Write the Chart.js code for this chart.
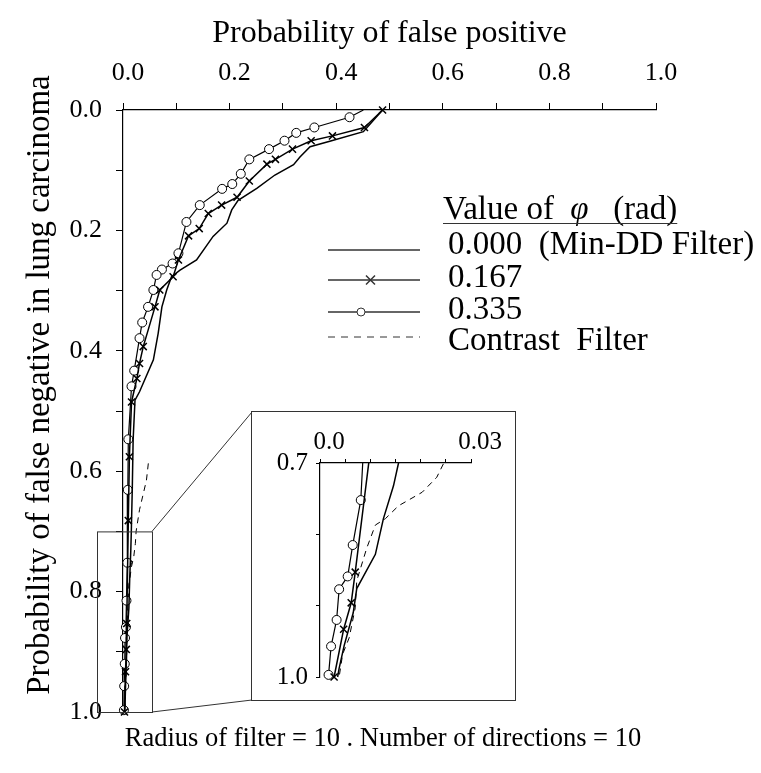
<!DOCTYPE html>
<html>
<head>
<meta charset="utf-8">
<script src="https://cdn.jsdelivr.net/npm/chart.js@4.4.1/dist/chart.umd.min.js"></script>
<style>
  html, body { margin: 0; padding: 0; background: #fff; }
  #wrap { position: relative; width: 761px; height: 773px; }
  #main { position: absolute; left: 0; top: 0; }
  #insetBox { position: absolute; left: 251px; top: 411px; width: 263px; height: 288px;
              border: 1px solid #333; background: #fff; }
  #inset { position: absolute; left: 0; top: 0; }
</style>
</head>
<body>
<div id="wrap">
  <canvas id="main" width="761" height="773"></canvas>
  <div id="insetBox"><canvas id="inset" width="263" height="288"></canvas></div>
</div>
<script>
// values (x = P(false positive), y = P(false negative))
const phi000X = [0.487, 0.451, 0.388, 0.351, 0.332, 0.320, 0.285, 0.251, 0.216, 0.204, 0.195, 0.169,
  0.138, 0.107, 0.091, 0.082, 0.073, 0.066, 0.057, 0.031, 0.0225, 0.019, 0.0175, 0.0156, 0.0146,
  0.0126, 0.011, 0.0073, 0.0066, 0.0048, 0.0038, 0.0035];
const phi000Y = [0.000, 0.036, 0.052, 0.061, 0.078, 0.091, 0.108, 0.130, 0.150, 0.166, 0.188, 0.210,
  0.249, 0.266, 0.277, 0.299, 0.327, 0.371, 0.415, 0.468, 0.482, 0.548, 0.626, 0.700, 0.732,
  0.778, 0.828, 0.876, 0.910, 0.956, 0.988, 1.000];

const phi167X = [0.487, 0.453, 0.393, 0.353, 0.318, 0.286, 0.270, 0.237, 0.214, 0.185, 0.160, 0.143,
  0.123, 0.104, 0.094, 0.069, 0.060, 0.038, 0.031, 0.026, 0.016, 0.012, 0.010, 0.0070, 0.0062,
  0.0047, 0.0028];
const phi167Y = [0.000, 0.029, 0.043, 0.051, 0.065, 0.082, 0.090, 0.118, 0.145, 0.158, 0.172, 0.197,
  0.209, 0.249, 0.277, 0.299, 0.327, 0.393, 0.421, 0.446, 0.485, 0.576, 0.682, 0.853, 0.896,
  0.933, 1.000];

const phi335X = [0.451, 0.425, 0.359, 0.325, 0.303, 0.274, 0.237, 0.221, 0.205, 0.186, 0.144, 0.119,
  0.104, 0.093, 0.073, 0.063, 0.057, 0.047, 0.036, 0.031, 0.021, 0.016, 0.010, 0.009, 0.0081,
  0.0065, 0.0055, 0.0038, 0.0033, 0.0022, 0.0017];
const phi335Y = [0.000, 0.012, 0.029, 0.038, 0.051, 0.065, 0.082, 0.106, 0.123, 0.131, 0.158, 0.186,
  0.238, 0.255, 0.265, 0.274, 0.299, 0.327, 0.353, 0.379, 0.433, 0.459, 0.547, 0.631, 0.752,
  0.815, 0.859, 0.877, 0.920, 0.957, 0.997];

const contrastX = [0.0475, 0.044, 0.031, 0.0246, 0.0232, 0.0203, 0.0156, 0.013, 0.011, 0.0093,
  0.0073, 0.0070, 0.0058, 0.0045, 0.0038];
const contrastY = [0.587, 0.615, 0.664, 0.700, 0.720, 0.741, 0.760, 0.778, 0.787, 0.819,
  0.865, 0.903, 0.945, 0.968, 1.000];

const legendTitle = ['Value of ', '\u03c6', '   (rad)'];
const legendLabels = ['0.000  (Min-DD Filter)', '0.167', '0.335', 'Contrast  Filter'];
const xTitle = 'Probability of false positive';
const yTitle = 'Probability of false negative in lung carcinoma';
const caption = 'Radius of filter = 10 . Number of directions = 10';

const SERIF = "'Liberation Serif', 'Times New Roman', serif";
Chart.defaults.font.family = SERIF;
Chart.defaults.color = '#000';

function pts(xs, ys) {
  return xs.map((x, i) => ({ x: x, y: ys[i] }));
}

function buildDatasets(clip) {
  return [
    { label: legendLabels[0], data: pts(phi000X, phi000Y), showLine: true,
      borderColor: '#000', borderWidth: 1.5, pointRadius: 0, clip: clip },
    { label: legendLabels[1], data: pts(phi167X, phi167Y), showLine: true,
      borderColor: '#000', borderWidth: 1.5, pointStyle: 'crossRot', pointRadius: 5,
      pointBorderWidth: 1.5, pointBorderColor: '#000', clip: clip },
    { label: legendLabels[2], data: pts(phi335X, phi335Y), showLine: true,
      borderColor: '#000', borderWidth: 1.2, pointStyle: 'circle',
      pointRadius: c => (c.raw && c.raw.y === 0 ? 0 : 4.5),
      pointBackgroundColor: '#fff', pointBorderColor: '#000', pointBorderWidth: 1, clip: clip },
    { label: legendLabels[3], data: pts(contrastX, contrastY), showLine: true,
      borderColor: '#000', borderWidth: 1, borderDash: [6, 5], pointRadius: 0, clip: clip }
  ];
}

function mainLabel(v) {
  return Math.round(v * 10) % 2 === 0 ? v.toFixed(1) : '';
}

const mainDeco = {
  id: 'mainDeco',
  afterDraw(chart) {
    const ctx = chart.ctx;
    const xs = chart.scales.x, ys = chart.scales.y;
    ctx.save();

    // zoom box + connectors to the inset
    const bx0 = xs.getPixelForValue(0) - 26, bx1 = xs.getPixelForValue(0) + 29;
    const by0 = ys.getPixelForValue(0.7), by1 = ys.getPixelForValue(1.0);
    ctx.strokeStyle = '#333';
    ctx.lineWidth = 1;
    ctx.strokeRect(bx0 + 0.5, by0 + 0.5, bx1 - bx0, by1 - by0);
    ctx.beginPath();
    ctx.moveTo(bx1, by0); ctx.lineTo(252, 412);
    ctx.moveTo(bx1, by1); ctx.lineTo(252, 700);
    ctx.stroke();

    // y title
    ctx.fillStyle = '#000';
    ctx.font = '33px ' + SERIF;
    ctx.textAlign = 'center';
    ctx.textBaseline = 'middle';
    ctx.save();
    ctx.translate(40, 385);
    ctx.rotate(-Math.PI / 2);
    ctx.fillText(yTitle, 0, 0);
    ctx.restore();

    // legend
    ctx.textAlign = 'left';
    let tx = 443;
    const ty = 210;
    ctx.font = '33px ' + SERIF;
    ctx.fillText(legendTitle[0], tx, ty);
    tx += ctx.measureText(legendTitle[0]).width + 8;
    ctx.font = 'italic 33px ' + SERIF;
    ctx.fillText(legendTitle[1], tx, ty);
    tx += ctx.measureText(legendTitle[1]).width;
    ctx.font = '33px ' + SERIF;
    ctx.fillText(legendTitle[2], tx, ty);
    tx += ctx.measureText(legendTitle[2]).width;
    ctx.beginPath();
    ctx.lineWidth = 1.2;
    ctx.moveTo(443, 223.5); ctx.lineTo(tx, 223.5);
    ctx.stroke();

    const rowText = [245, 278, 310, 341];
    const rowLine = [250, 280, 312, 337];
    for (let i = 0; i < 4; i++) {
      ctx.fillText(legendLabels[i], 448, rowText[i]);
      ctx.beginPath();
      ctx.lineWidth = i === 3 ? 1 : 1.3;
      ctx.setLineDash(i === 3 ? [7, 6] : []);
      ctx.moveTo(328, rowLine[i]); ctx.lineTo(420, rowLine[i]);
      ctx.stroke();
      ctx.setLineDash([]);
      if (i === 1) {
        ctx.beginPath();
        ctx.lineWidth = 1.5;
        ctx.moveTo(366, rowLine[i] - 4.5); ctx.lineTo(375, rowLine[i] + 4.5);
        ctx.moveTo(375, rowLine[i] - 4.5); ctx.lineTo(366, rowLine[i] + 4.5);
        ctx.stroke();
      }
      if (i === 2) {
        ctx.beginPath();
        ctx.lineWidth = 1;
        ctx.fillStyle = '#fff';
        ctx.arc(361, rowLine[i], 4, 0, Math.PI * 2);
        ctx.fill(); ctx.stroke();
        ctx.fillStyle = '#000';
      }
    }

    // caption
    ctx.textAlign = 'center';
    ctx.font = '26.5px ' + SERIF;
    ctx.fillText(caption, 383, 739);
    ctx.restore();
  }
};

new Chart(document.getElementById('main'), {
  type: 'scatter',
  data: { datasets: buildDatasets(false) },
  options: {
    responsive: false,
    animation: false,
    events: [],
    layout: { padding: { left: 0, top: 0, right: 105, bottom: 61 } },
    plugins: { legend: { display: false }, tooltip: { enabled: false } },
    scales: {
      x: {
        type: 'linear', position: 'top', min: 0, max: 1,
        ticks: { stepSize: 0.1, autoSkip: false, callback: mainLabel, font: { size: 26 },
                 padding: 14, labelOffset: 5, color: '#000', maxRotation: 0 },
        grid: { drawOnChartArea: false, tickLength: 7, tickColor: '#000', color: '#000' },
        border: { color: '#000', width: 1.2 },
        title: { display: true, text: xTitle, font: { size: 32 }, padding: { top: 14, bottom: 0 }, color: '#000' },
        afterFit: s => { s.height = 110; }
      },
      y: {
        type: 'linear', reverse: true, min: 0, max: 1,
        ticks: { stepSize: 0.1, autoSkip: false, callback: mainLabel, font: { size: 26 },
                 padding: 14, color: '#000' },
        grid: { drawOnChartArea: false, tickLength: 7, tickColor: '#000', color: '#000' },
        border: { color: '#000', width: 1.2 },
        afterFit: s => { s.width = 123; }
      }
    }
  },
  plugins: [mainDeco]
});

new Chart(document.getElementById('inset'), {
  type: 'scatter',
  data: { datasets: buildDatasets({ left: 6, top: 0, right: 0, bottom: 8 }) },
  options: {
    responsive: false,
    animation: false,
    events: [],
    layout: { padding: { left: 0, top: 0, right: 44, bottom: 20 } },
    plugins: { legend: { display: false }, tooltip: { enabled: false } },
    scales: {
      x: {
        type: 'linear', position: 'top', min: 0, max: 0.03,
        ticks: { stepSize: 0.005, autoSkip: false, font: { size: 25 }, padding: 2, labelOffset: 9,
                 maxRotation: 0, color: '#000',
                 callback: v => (v === 0 ? '0.0' : (Math.abs(v - 0.03) < 1e-9 ? '0.03' : '')) },
        grid: { drawOnChartArea: false, tickLength: 4, tickColor: '#000', color: '#000' },
        border: { color: '#000', width: 1.2 },
        afterFit: s => { s.height = 51; }
      },
      y: {
        type: 'linear', reverse: true, min: 0.7, max: 1.0,
        ticks: { stepSize: 0.1, autoSkip: false, font: { size: 25 }, padding: 8, color: '#000',
                 callback: v => (Math.abs(v - 0.7) < 1e-9 ? '0.7' : (Math.abs(v - 1) < 1e-9 ? '1.0' : '')) },
        grid: { drawOnChartArea: false, tickLength: 4, tickColor: '#000', color: '#000' },
        border: { color: '#000', width: 1.2 },
        afterFit: s => { s.width = 68; }
      }
    }
  }
});
</script>
</body>
</html>
